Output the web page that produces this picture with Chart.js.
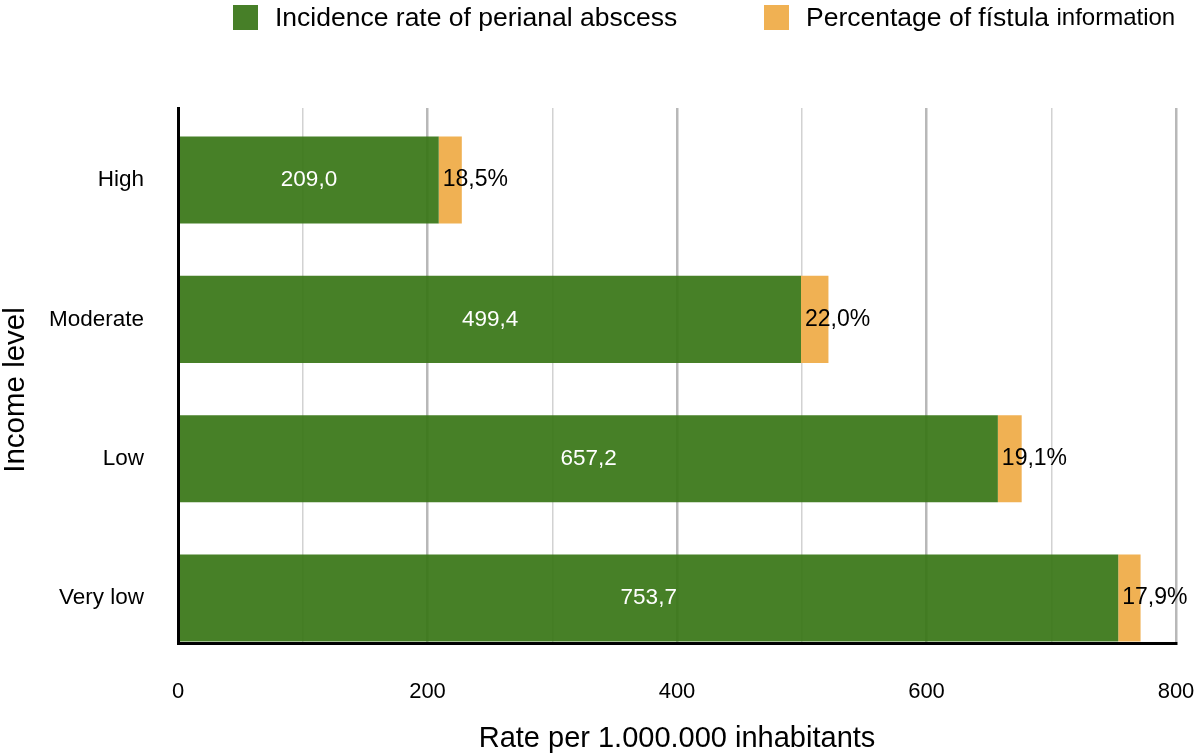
<!DOCTYPE html>
<html>
<head>
<meta charset="utf-8">
<script src="https://cdn.jsdelivr.net/npm/chart.js@4"></script>
<style>
  body { margin: 0; background: #fff; font-family: "Liberation Sans", Arial, sans-serif; }
  #wrap { position: relative; width: 1200px; height: 756px; }
  #legend { position: absolute; top: 0; left: 0; width: 1200px; height: 40px; }
  .item { position: absolute; top: 4px; height: 26px; display: flex; align-items: center; font-size: 26.5px; color: #000; white-space: nowrap; }
  .box { width: 25px; height: 25px; margin-right: 17px; }
  .small { font-size: 24px; }
</style>
</head>
<body>
<div id="wrap">
  <canvas id="myChart" width="1200" height="756"></canvas>
  <div id="legend">
    <div class="item" style="left:233px"><span class="box" style="background:#477f28"></span><span id="lg0"></span></div>
    <div class="item" style="left:764px"><span class="box" style="background:#f0b153"></span><span id="lg1"></span>&nbsp;<span class="small" id="lg1b"></span></div>
  </div>
</div>
<script>
// data
const categories = ["High", "Moderate", "Low", "Very low"];
const incidenceRate = [209.0, 499.4, 657.2, 753.7];
const fistulaPct = [18.5, 22.0, 19.1, 17.9];
const xTicks = [0, 200, 400, 600, 800];
const seriesNames = ["Incidence rate of perianal abscess", "Percentage of fístula", "information"];
const yTitle = "Income level";
const xTitle = "Rate per 1.000.000 inhabitants";

const green = "rgba(57, 118, 23, 0.93)";
const orange = "#f0b153";
const FONT = "'Liberation Sans', Arial, sans-serif";

document.getElementById("lg0").textContent = seriesNames[0];
document.getElementById("lg1").textContent = seriesNames[1];
document.getElementById("lg1b").textContent = seriesNames[2];

function fmt(v) {
  return v.toFixed(1).replace(".", ",");
}

// value labels inside / next to the bars, plus the y axis title
const barLabels = {
  id: "barLabels",
  afterDatasetsDraw(chart) {
    const ctx = chart.ctx;
    ctx.save();
    ctx.textBaseline = "middle";
    const m0 = chart.getDatasetMeta(0);
    const m1 = chart.getDatasetMeta(1);
    m0.data.forEach((bar, i) => {
      ctx.font = "22.5px " + FONT;
      ctx.fillStyle = "#fff";
      ctx.textAlign = "center";
      ctx.fillText(fmt(incidenceRate[i]), (bar.x + bar.base) / 2, bar.y);
    });
    m1.data.forEach((bar, i) => {
      ctx.font = "23px " + FONT;
      ctx.fillStyle = "#000";
      ctx.textAlign = "left";
      ctx.fillText(fmt(fistulaPct[i]) + "%", bar.base + 4, bar.y);
    });
    ctx.restore();
  },
  afterDraw(chart) {
    const ctx = chart.ctx;
    ctx.save();
    ctx.translate(16, 390);
    ctx.rotate(-Math.PI / 2);
    ctx.font = "29.5px " + FONT;
    ctx.fillStyle = "#000";
    ctx.textAlign = "center";
    ctx.textBaseline = "middle";
    ctx.fillText(yTitle, 0, 0);
    ctx.restore();
  }
};

const ctx = document.getElementById("myChart").getContext("2d");
const chart = new Chart(ctx, {
  type: "bar",
  data: {
    datasets: [
      {
        label: seriesNames[0],
        backgroundColor: green,
        borderWidth: 0,
        data: incidenceRate.map((v, i) => ({ x: v, y: i })),
      },
      {
        label: seriesNames[1] + " " + seriesNames[2],
        backgroundColor: orange,
        borderWidth: 0,
        data: fistulaPct.map((v, i) => ({ x: v, y: i })),
      },
    ],
  },
  plugins: [barLabels],
  options: {
    responsive: false,
    animation: false,
    indexAxis: "y",
    categoryPercentage: 1,
    barPercentage: 0.625,
    layout: { padding: { top: 108, right: 24, left: 0, bottom: 0 } },
    plugins: {
      legend: { display: false },
      tooltip: { enabled: false },
    },
    scales: {
      x: {
        type: "linear",
        stacked: true,
        min: 0,
        max: 800,
        afterBuildTicks: (scale) => {
          const t = [];
          for (let v = 0; v <= 800; v += 100) t.push({ value: v });
          scale.ticks = t;
        },
        afterFit: (scale) => { scale.height = 113; },
        ticks: {
          padding: 3,
          color: "#000",
          font: { size: 22, family: FONT },
          maxRotation: 0,
          autoSkip: false,
          callback: (v) => (xTicks.includes(v) ? String(v) : ""),
        },
        grid: {
          drawTicks: true,
          tickLength: 33,
          tickColor: "rgba(0,0,0,0)",
          color: (c) => (c.tick && c.tick.value % 200 === 0 ? "#b8b8b8" : "#d2d2d2"),
          lineWidth: (c) => (c.tick && c.tick.value % 200 === 0 ? 2.5 : 1.5),
        },
        border: { display: true, color: "#000", width: 3, z: 1 },
        title: {
          display: true,
          text: xTitle,
          color: "#000",
          font: { size: 29, family: FONT },
          padding: { top: 0, bottom: 0 },
        },
      },
      y: {
        type: "linear",
        stacked: true,
        reverse: true,
        offset: false,
        min: -0.517,
        max: 3.323,
        afterBuildTicks: (scale) => {
          scale.ticks = categories.map((c, i) => ({ value: i }));
        },
        afterFit: (scale) => { scale.width = 178; },
        ticks: {
          padding: 34,
          color: "#000",
          font: { size: 22.5, family: FONT },
          autoSkip: false,
          callback: (v) => categories[v],
        },
        grid: { display: false, drawTicks: false, offset: false },
        border: { display: true, color: "#000", width: 3, z: 1 },
      },
    },
  },
});
</script>
</body>
</html>
